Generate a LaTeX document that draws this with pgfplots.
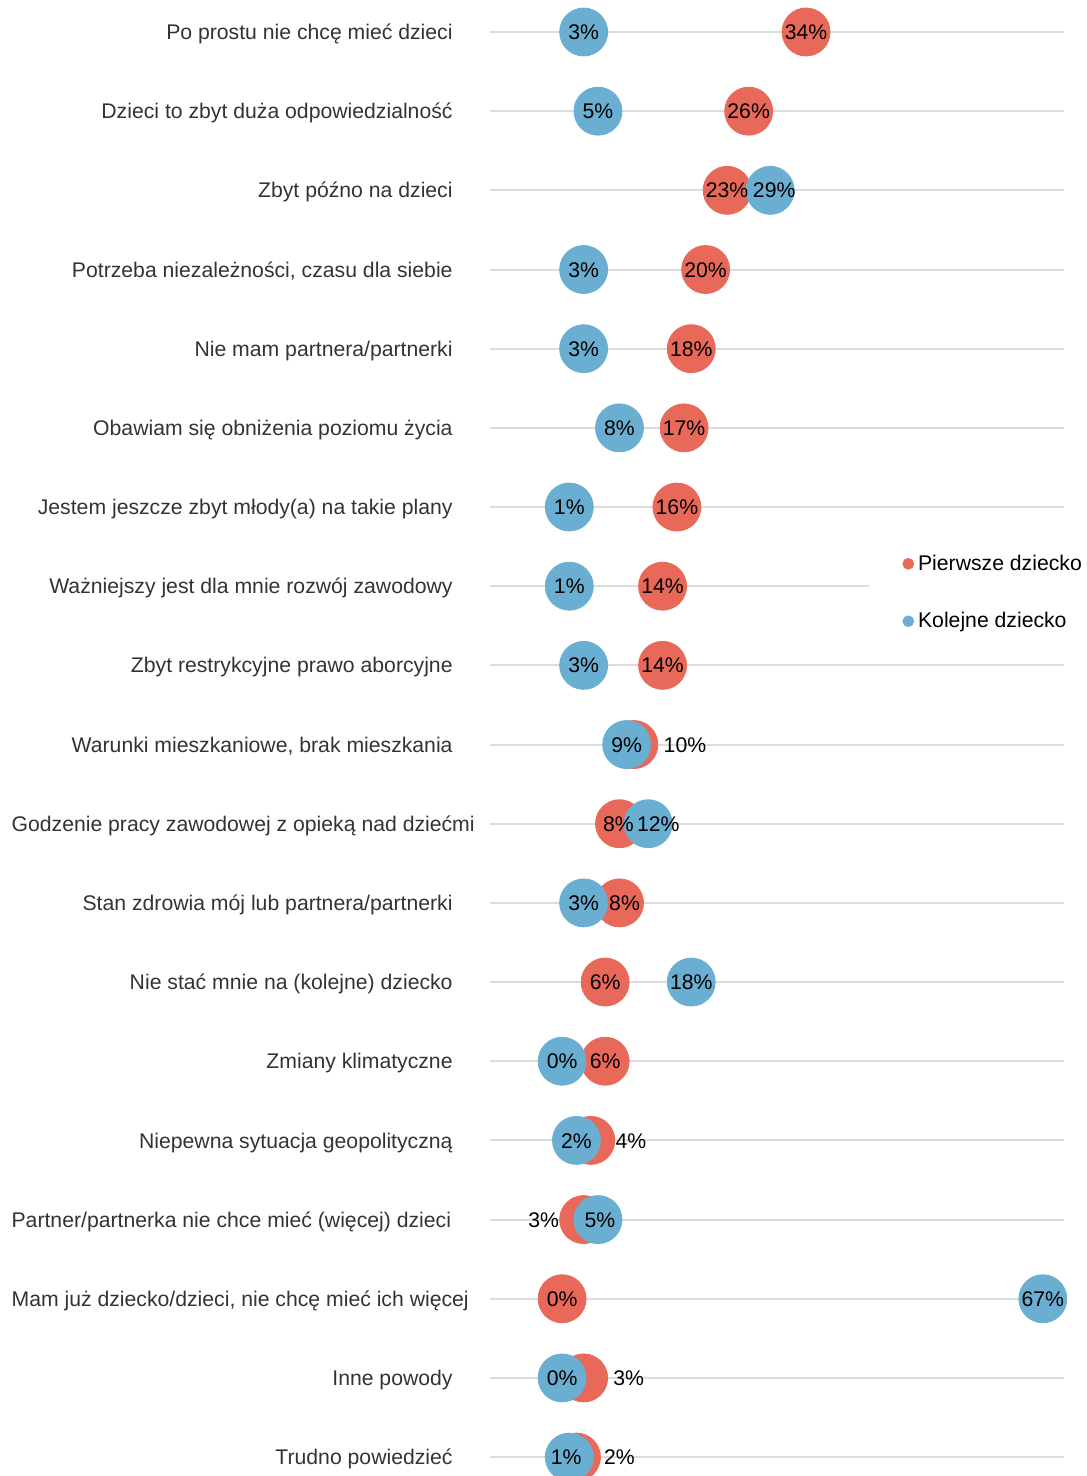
\documentclass[border=0pt]{standalone}
\usepackage{pgfplots}
\pgfplotsset{compat=1.18}
\usepackage{pgfplotstable}
\usepackage{fontspec}
\setmainfont{Liberation Sans}
\definecolor{cRed}{HTML}{E8695A}
\definecolor{cBlue}{HTML}{6AAFD1}
\definecolor{cGrid}{HTML}{DCDCDC}
\definecolor{cLab}{HTML}{333333}
\newcommand\fs{\fontsize{10.6pt}{12.7pt}\selectfont}
\newcommand\rl[1]{\makebox[220.5pt][r]{#1}}
\newcommand\lf[1]{\makebox[220.5pt][l]{#1}}

% x = value (%), y = row, lx = x position of the value label, lab = label text
\pgfplotstableread{
x y lx lab
34 0 34 34
26 1 26 26
23 2 23 23
20 3 20 20
18 4 18 18
17 5 17 17
16 6 16 16
14 7 14 14
14 8 14 14
10 9 17.12 10
8 10 7.86 8
8 11 8.70 8
6 12 6 6
6 13 6 6
4 14 9.58 4
3 15 -2.58 3
0 16 0 0
3 17 9.28 3
2 18 8.0 2
}\reddata

\pgfplotstableread{
x y lx lab
3 0 3 3
5 1 5 5
29 2 29.56 29
3 3 3 3
3 4 3 3
8 5 8 8
1 6 1 1
1 7 1 1
3 8 3 3
9 9 9 9
12 10 13.4 12
3 11 3 3
18 12 18 18
0 13 0 0
2 14 2 2
5 15 5.28 5
67 16 67 67
0 17 0 0
1 18 0.58 1
}\bluedata

\begin{document}
\begin{tikzpicture}
\useasboundingbox (0,0) rectangle (543pt,738pt);
\begin{axis}[
  at={(245.18pt,0pt)}, anchor=south west,
  scale only axis, width=287pt, height=738pt,
  xmin=-10, xmax=70, ymin=-0.4042, ymax=18.239, y dir=reverse,
  clip=false,
  axis line style={draw=none},
  xtick=\empty,
  ytick={0,...,18},
  yticklabels={
    \rl{Po prostu nie chcę mieć dzieci},
    \rl{Dzieci to zbyt duża odpowiedzialność},
    \rl{Zbyt późno na dzieci},
    \rl{Potrzeba niezależności, czasu dla siebie},
    \rl{Nie mam partnera/partnerki},
    \rl{Obawiam się obniżenia poziomu życia},
    \rl{Jestem jeszcze zbyt młody(a) na takie plany},
    \rl{Ważniejszy jest dla mnie rozwój zawodowy},
    \rl{Zbyt restrykcyjne prawo aborcyjne},
    \rl{Warunki mieszkaniowe, brak mieszkania},
    \lf{Godzenie pracy zawodowej z opieką nad dziećmi},
    \rl{Stan zdrowia mój lub partnera/partnerki},
    \rl{Nie stać mnie na (kolejne) dziecko},
    \rl{Zmiany klimatyczne},
    \rl{Niepewna sytuacja geopolityczną},
    \lf{Partner/partnerka nie chce mieć (więcej) dzieci},
    \lf{Mam już dziecko/dzieci, nie chcę mieć ich więcej},
    \rl{Inne powody},
    \rl{Trudno powiedzieć}},
  major tick length=0pt,
  ymajorgrids, grid style={cGrid, line width=1pt},
  yticklabel style={anchor=east, inner sep=0pt, xshift=-18.68pt, font=\fs, text=cLab, text height=7.6pt, text depth=0pt},
  legend cell align=left,
  legend style={at={(axis cs:42.7,7.08)}, anchor=west, draw=none, fill=white,
    inner xsep=16.8pt, inner ysep=10pt, row sep=15.5pt, font=\fs, text=black},
]
\addplot[only marks, mark=*, mark size=12pt, color=cRed, mark options={draw=none, fill=cRed},
  legend image code/.code={\fill[cRed] (0pt,0pt) circle (2.7pt);}]
  table[x=x, y=y] {\reddata};
\addlegendentry{Pierwsze dziecko}
\addplot[only marks, mark=*, mark size=12pt, color=cBlue, mark options={draw=none, fill=cBlue},
  legend image code/.code={\fill[cBlue] (0pt,0pt) circle (2.7pt);}]
  table[x=x, y=y] {\bluedata};
\addlegendentry{Kolejne dziecko}
\addplot[forget plot, draw=none, mark=none,
  nodes near coords={\pgfplotspointmeta\%}, point meta=explicit symbolic,
  nodes near coords align={center},
  nodes near coords style={anchor=center, font=\fs, text=black, inner sep=0pt, text height=7.6pt, text depth=0pt}]
  table[x=lx, y=y, meta=lab] {\reddata};
\addplot[forget plot, draw=none, mark=none,
  nodes near coords={\pgfplotspointmeta\%}, point meta=explicit symbolic,
  nodes near coords align={center},
  nodes near coords style={anchor=center, font=\fs, text=black, inner sep=0pt, text height=7.6pt, text depth=0pt}]
  table[x=lx, y=y, meta=lab] {\bluedata};
\end{axis}
\end{tikzpicture}
\end{document}
